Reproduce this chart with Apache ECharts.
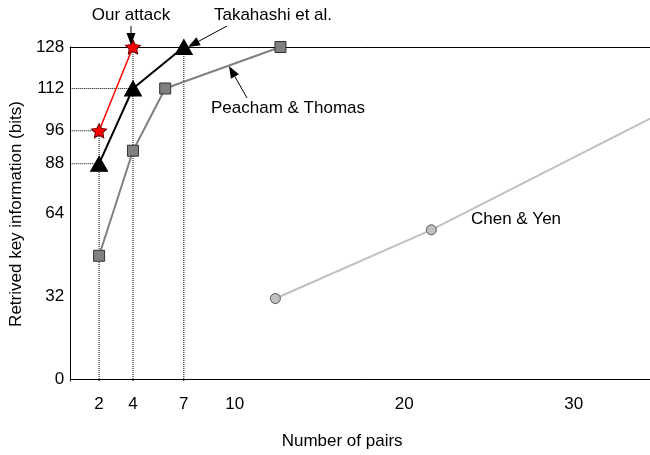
<!DOCTYPE html>
<html><head><meta charset="utf-8">
<script src="https://cdn.jsdelivr.net/npm/echarts@6/dist/echarts.min.js"></script>
<style>html,body{margin:0;padding:0;background:#fff}#c{width:650px;height:455px}</style>
</head><body><div id="c"></div>
<script>
// ---- data ----
const xTickValues = [2, 4, 7, 10, 20, 30];
const yTickValues = [0, 32, 64, 83, 96, 112, 128];
const yTickLabels = ['0', '32', '64', '88', '96', '112', '128'];

const attackX = [2, 4];
const attackY = [95.7, 128];
const takahashiX = [2, 4, 7];
const takahashiY = [83, 112, 128];
const peachamX = [2, 4, 5.9, 12.7];
const peachamY = [47.5, 88, 112, 128];
const chenX = [12.4, 21.6, 34.5];
const chenY = [31, 57.5, 100.4];

const X_MIN = 0.3, X_MAX = 34.5, Y_MIN = -0.8, Y_MAX = 128;
const FONT = '"Liberation Sans", Arial, sans-serif';

function pairs(xs, ys) { return xs.map((x, i) => [x, ys[i]]); }

// dotted guide lines built from the data points
const vGuides = [[attackX[0], attackY[0]], [attackX[1], attackY[1]], [takahashiX[2], takahashiY[2]]];
const hGuides = [[takahashiX[1], takahashiY[1]], [attackX[0], attackY[0]], [takahashiX[0], takahashiY[0]]];
const guideSeries = [];
vGuides.forEach(p => guideSeries.push({
  type: 'line', data: [[p[0], Y_MIN], p], symbol: 'none', silent: true, z: 1, clip: false,
  lineStyle: { color: '#000', width: 1, type: 'dotted' }
}));
hGuides.forEach(p => guideSeries.push({
  type: 'line', data: [[X_MIN, p[1]], p], symbol: 'none', silent: true, z: 1, clip: false,
  lineStyle: { color: '#000', width: 1, type: 'dotted' }
}));

const starPath = 'path://M0,-10L2.94,-4.05L9.51,-3.09L4.76,1.55L5.88,8.09L0,5L-5.88,8.09L-4.76,1.55L-9.51,-3.09L-2.94,-4.05Z';

function arrow(x1, y1, x2, y2) {
  const dx = x2 - x1, dy = y2 - y1, L = Math.hypot(dx, dy);
  const ux = dx / L, uy = dy / L, hl = 12, hw = 4.5;
  const bx = x2 - ux * hl, by = y2 - uy * hl;
  return [
    { type: 'line', z: 50, shape: { x1: x1, y1: y1, x2: bx, y2: by }, style: { stroke: '#000', lineWidth: 1 } },
    { type: 'polygon', z: 50, shape: { points: [[x2, y2], [bx - uy * hw, by + ux * hw], [bx + uy * hw, by - ux * hw]] }, style: { fill: '#000' } }
  ];
}
function label(text, x, y) {
  return { type: 'text', z: 50, x: x, y: y, style: { text: text, font: '17px ' + FONT, fill: '#000', align: 'center', verticalAlign: 'middle' } };
}

const chart = echarts.init(document.getElementById('c'), null, { renderer: 'canvas' });
chart.setOption({
  animation: false,
  backgroundColor: '#fff',
  grid: { left: 68, right: 0, top: 47, bottom: 72 },
  xAxis: [{
    type: 'value', min: X_MIN, max: X_MAX,
    name: 'Number of pairs', nameLocation: 'middle', nameGap: 52,
    nameTextStyle: { fontSize: 17, fontFamily: FONT, color: '#000', padding: [0, 36, 0, 0] },
    axisLine: { show: true, lineStyle: { color: '#000', width: 1 } },
    axisTick: { show: false }, splitLine: { show: false },
    axisLabel: { customValues: xTickValues, fontSize: 17, fontFamily: FONT, color: '#000', margin: 15 }
  }, {
    type: 'value', position: 'top', min: X_MIN, max: X_MAX,
    axisLine: { show: true, onZero: false, lineStyle: { color: '#000', width: 1 } },
    axisTick: { show: false }, splitLine: { show: false }, axisLabel: { show: false }
  }],
  yAxis: {
    type: 'value', min: Y_MIN, max: Y_MAX,
    name: 'Retrived key information (bits)', nameLocation: 'middle', nameGap: 44,
    nameTextStyle: { fontSize: 17, fontFamily: FONT, color: '#000' },
    axisLine: { show: true, onZero: false, lineStyle: { color: '#000', width: 1 } },
    axisTick: { show: false }, splitLine: { show: false },
    axisLabel: {
      customValues: yTickValues, fontSize: 17, fontFamily: FONT, color: '#000', margin: 6,
      formatter: v => { const i = yTickValues.indexOf(v); return i >= 0 ? yTickLabels[i] : ''; }
    }
  },
  series: guideSeries.concat([
    {
      name: 'Chen & Yen', type: 'line', z: 3, clip: true,
      data: pairs(chenX, chenY).map((p, i) => i === chenX.length - 1 ? { value: p, symbol: 'none' } : p),
      symbol: 'circle', symbolSize: 10,
      lineStyle: { color: '#c0c0c0', width: 2 },
      itemStyle: { color: '#c0c0c0', borderColor: '#555', borderWidth: 1 }
    },
    {
      name: 'Peacham & Thomas', type: 'line', z: 4, clip: false,
      data: pairs(peachamX, peachamY), symbol: 'rect', symbolSize: 11,
      lineStyle: { color: '#808080', width: 2 },
      itemStyle: { color: '#808080', borderColor: '#333', borderWidth: 1 }
    },
    {
      name: 'Takahashi et al.', type: 'line', z: 5, clip: false,
      data: pairs(takahashiX, takahashiY), symbol: 'triangle', symbolSize: [17, 15],
      lineStyle: { color: '#000', width: 2 },
      itemStyle: { color: '#000', borderColor: '#000', borderWidth: 1 }
    },
    {
      name: 'Our attack', type: 'line', z: 6, clip: false,
      data: pairs(attackX, attackY), symbol: starPath, symbolSize: [15, 14],
      lineStyle: { color: '#ff0000', width: 1.5 },
      itemStyle: { color: '#ff0000', borderColor: '#600', borderWidth: 1 }
    }
  ]),
  graphic: [
    label('Our attack', 131, 15),
    label('Takahashi et al.', 273, 15),
    label('Peacham & Thomas', 288, 108),
    label('Chen & Yen', 516, 219)
  ].concat(arrow(131, 26, 131, 45), arrow(227, 26, 188, 47), arrow(247, 98, 229, 66))
});
</script></body></html>
